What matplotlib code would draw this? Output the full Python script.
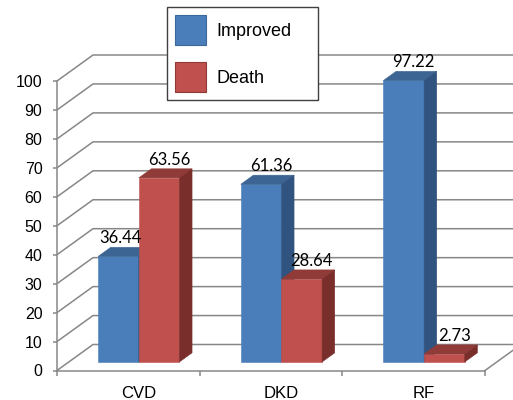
import matplotlib.pyplot as plt
from matplotlib.patches import Polygon, Patch

categories = ['CVD', 'DKD', 'RF']
series_names = ['Improved', 'Death']
improved = [36.44, 61.36, 97.22]
death = [63.56, 28.64, 2.73]
yticks = list(range(0, 101, 10))

# front / top / side shades for each series
blue = ('#4A7EBB', '#3C6594', '#31537F')
red = ('#C0504D', '#913B39', '#7A2E2C')
edges = ['#3A6898', '#8E3A38']
grid_col = '#878787'

DX, DY = 0.2523, 8.98   # depth of the floor and walls (data units)
f0, f1 = 0.33, 0.68     # depth of the bar front and back faces
bw = 0.285              # bar width
center = 0.49           # group centre inside each category

fig = plt.figure(figsize=(5.13, 4.0), dpi=100)
ax = fig.add_axes([57 / 513, 29.5 / 400, 428 / 513, 289.5 / 400])
ax.set_xlim(0, 3)
ax.set_ylim(0, 100)
for s in ax.spines.values():
    s.set_visible(False)

# side wall + back wall gridlines
for v in yticks:
    ax.plot([0, DX, 3 + DX], [v, v + DY, v + DY], color=grid_col, lw=1.1,
            clip_on=False, zorder=1, solid_capstyle='butt')
# floor edges and front axis lines
ax.plot([3, 3 + DX], [0, DY], color=grid_col, lw=1.1, clip_on=False, zorder=1)
ax.plot([0, 3], [0, 0], color=grid_col, lw=1.1, clip_on=False, zorder=1)
ax.plot([0, 0], [0, 100], color=grid_col, lw=1.1, clip_on=False, zorder=1)

ddx, ddy = (f1 - f0) * DX, (f1 - f0) * DY
label_nudge = [[-6, 0, 0], [0, 0, 0]]  # points, keeps 36.44 off the red bar

for i in range(len(categories)):
    for j, (vals, cols) in enumerate([(improved, blue), (death, red)]):
        v = vals[i]
        xl = i + center - bw + j * bw + f0 * DX
        xr = xl + bw
        yb = f0 * DY
        yt = yb + v
        z = 3 + j
        ax.bar(xl, v, width=bw, bottom=yb, align='edge', color=cols[0],
               edgecolor=cols[0], lw=0.4, zorder=z, clip_on=False)
        ax.add_patch(Polygon([(xl, yt), (xr, yt), (xr + ddx, yt + ddy), (xl + ddx, yt + ddy)],
                             closed=True, fc=cols[1], ec=cols[1], lw=0.4, zorder=z, clip_on=False))
        ax.add_patch(Polygon([(xr, yb), (xr + ddx, yb + ddy), (xr + ddx, yt + ddy), (xr, yt)],
                             closed=True, fc=cols[2], ec=cols[2], lw=0.4, zorder=z, clip_on=False))
        ax.annotate(f'{v:.2f}', (xl + bw / 2, yt + ddy),
                    xytext=(7.2 + label_nudge[j][i], 2.8), textcoords='offset points',
                    ha='center', va='baseline', fontsize=12, family='Lato',
                    color='black', zorder=10, annotation_clip=False)

# y axis ticks and labels
ax.set_yticks(yticks)
ax.tick_params(axis='y', direction='out', length=3, width=1.1, color=grid_col,
               labelsize=11.5, pad=7.5)
# category labels sit under the bars, tick marks at category edges
ax.set_xticks([i + center + f0 * DX for i in range(len(categories))])
ax.set_xticklabels(categories)
ax.set_xticks(range(len(categories) + 1), minor=True)
ax.tick_params(axis='x', which='major', length=0, labelsize=12, pad=11)
ax.tick_params(axis='x', which='minor', direction='out', length=3.5, width=1.1, color=grid_col)
for lab in ax.get_xticklabels() + ax.get_yticklabels():
    lab.set_family('Liberation Sans')

handles = [Patch(fc=blue[0], ec=edges[0], lw=0.8), Patch(fc=red[0], ec=edges[1], lw=0.8)]
leg = fig.legend(handles, series_names, loc='upper left', mode='expand',
                 bbox_to_anchor=(167 / 513, 1 - 100 / 400, 151 / 513, 93 / 400),
                 bbox_transform=fig.transFigure,
                 prop={'family': 'Liberation Sans', 'size': 13},
                 handlelength=1.72, handleheight=2.18, handletextpad=0.6,
                 labelspacing=0.94, borderpad=0.44, borderaxespad=0,
                 fancybox=False, framealpha=1)
leg.get_frame().set_edgecolor('#404040')
leg.get_frame().set_linewidth(1.0)

fig.savefig('out.png', dpi=100)
